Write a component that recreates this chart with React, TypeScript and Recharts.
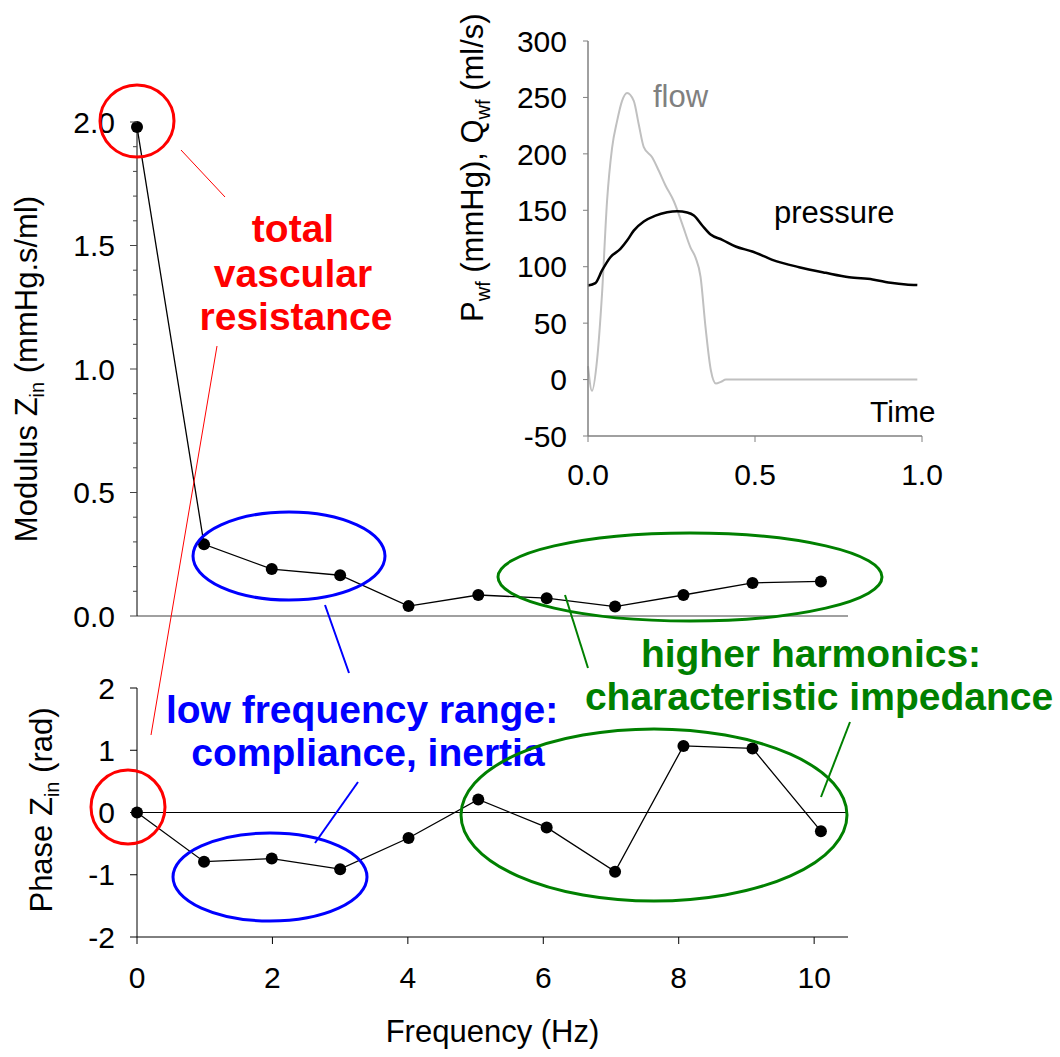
import { LineChart, Line, XAxis, YAxis, ReferenceLine } from "recharts";

const FONT = '"Liberation Sans", Arial, Helvetica, sans-serif';

// input impedance spectrum (harmonics of heart rate)
const harmonicFreq = [0, 0.99, 1.99, 3.0, 4.01, 5.04, 6.05, 7.06, 8.07, 9.09, 10.1];
const modulusZin = [1.98, 0.29, 0.19, 0.165, 0.04, 0.085, 0.072, 0.038, 0.085, 0.134, 0.14];
const phaseZin = [0.0, -0.79, -0.74, -0.91, -0.41, 0.21, -0.24, -0.95, 1.07, 1.03, -0.3];

const freqTicks = [0, 2, 4, 6, 8, 10];
const modulusTicks = [
  0, 0.1, 0.2, 0.3, 0.4, 0.5, 0.6, 0.7, 0.8, 0.9, 1.0, 1.1, 1.2, 1.3, 1.4, 1.5, 1.6, 1.7, 1.8, 1.9, 2.0,
];
const phaseTicks = [-2, -1, 0, 1, 2];

// inset: one beat of flow and pressure
const flowTime = [
  0, 0.012, 0.027, 0.042, 0.057, 0.072, 0.087, 0.102, 0.117, 0.137, 0.152, 0.167, 0.192, 0.212, 0.232,
  0.257, 0.282, 0.307, 0.322, 0.337, 0.352, 0.368, 0.383, 0.398, 0.413, 0.6, 0.8, 0.986,
];
const flowValues = [
  12, -10, 17, 76, 158, 205, 229, 247, 254, 247, 226, 206, 197, 185, 172, 158, 138, 117, 108, 91, 46, 8,
  -3.5, -2, 0, 0, 0, 0,
];
const pressureTime = [
  0, 0.022, 0.042, 0.067, 0.097, 0.117, 0.137, 0.167, 0.202, 0.237, 0.267, 0.297, 0.317, 0.342, 0.367,
  0.402, 0.442, 0.492, 0.552, 0.632, 0.712, 0.782, 0.852, 0.912, 0.952, 0.986,
];
const pressureValues = [
  83.4, 85.5, 96.7, 108.4, 115.8, 123.2, 132, 140, 145.3, 148.2, 149.1, 148, 145.3, 136.5, 128.5, 123.8,
  117.9, 113.5, 106.1, 99.6, 94.6, 90.7, 88.7, 85.5, 84.3, 83.7,
];
const insetYTicks = [-50, 0, 50, 100, 150, 200, 250, 300];
const insetXTicks = [0, 0.5, 1.0];

const spectrum = harmonicFreq.map((f, i) => ({ f, modulus: modulusZin[i], phase: phaseZin[i] }));
const flowData = flowTime.map((t, i) => ({ t, v: flowValues[i] }));
const pressureData = pressureTime.map((t, i) => ({ t, v: pressureValues[i] }));

const tickStyle = { fontSize: 30, fill: "#000", fontFamily: FONT };
const dotStyle = { r: 6, fill: "#000", stroke: "#000", strokeWidth: 0 };

// major ticks every 0.5 with labels, minor ticks every 0.1
function ModulusTick(props: any) {
  const { x, y, payload } = props;
  const v = payload.value as number;
  const major = Math.abs(v * 2 - Math.round(v * 2)) < 1e-6;
  const axisX = x + 7 + 15;
  return (
    <g>
      <line x1={axisX - (major ? 7 : 4)} x2={axisX} y1={y} y2={y} stroke="#444" />
      {major && (
        <text x={x} y={y} dy="0.36em" textAnchor="end" fontSize={30} fill="#000" fontFamily={FONT}>
          {v.toFixed(1)}
        </text>
      )}
    </g>
  );
}

export default function App() {
  const bold = { fontFamily: FONT, fontWeight: 700, fontSize: 39 };
  return (
    <div style={{ position: "relative", width: 1060, height: 1057, background: "#fff", fontFamily: FONT }}>
      <style>{"body{margin:0}"}</style>

      {/* modulus panel */}
      <div style={{ position: "absolute", left: 0, top: 0 }}>
        <LineChart width={1060} height={640} data={spectrum} margin={{ top: 122, right: 212, bottom: 0, left: 0 }}>
          <XAxis
            dataKey="f"
            type="number"
            domain={[0, 10.5]}
            ticks={freqTicks}
            interval={0}
            tick={false}
            tickSize={7}
            height={24}
            axisLine={{ stroke: "#808080", strokeWidth: 1.5 }}
            tickLine={{ stroke: "#808080" }}
          />
          <YAxis
            type="number"
            domain={[0, 2]}
            ticks={modulusTicks}
            interval={0}
            width={137}
            tickLine={false}
            tickSize={7}
            tickMargin={15}
            tick={<ModulusTick />}
            axisLine={{ stroke: "#000" }}
          />
          <Line dataKey="modulus" stroke="#000" strokeWidth={1.3} dot={dotStyle} isAnimationActive={false} />
        </LineChart>
      </div>

      {/* phase panel */}
      <div style={{ position: "absolute", left: 0, top: 640 }}>
        <LineChart width={1060} height={417} data={spectrum} margin={{ top: 48, right: 212, bottom: 0, left: 0 }}>
          <XAxis
            dataKey="f"
            type="number"
            domain={[0, 10.5]}
            ticks={freqTicks}
            interval={0}
            tickSize={7}
            tickMargin={23}
            height={120}
            tick={tickStyle}
            axisLine={{ stroke: "#000" }}
            tickLine={{ stroke: "#000" }}
            label={{
              value: "Frequency (Hz)",
              position: "insideBottom",
              offset: 15,
              fontSize: 31,
              fill: "#000",
              fontFamily: FONT,
            }}
          />
          <YAxis
            type="number"
            domain={[-2, 2]}
            ticks={phaseTicks}
            interval={0}
            width={137}
            tickSize={7}
            tickMargin={15}
            tick={tickStyle}
            axisLine={{ stroke: "#000" }}
            tickLine={{ stroke: "#000" }}
          />
          <ReferenceLine y={0} stroke="#000" strokeWidth={1} />
          <Line dataKey="phase" stroke="#000" strokeWidth={1.3} dot={dotStyle} isAnimationActive={false} />
        </LineChart>
      </div>

      {/* inset: pressure and flow waveforms */}
      <div style={{ position: "absolute", left: 400, top: 0 }}>
        <LineChart width={660} height={520} margin={{ top: 41, right: 138, bottom: 0, left: 0 }}>
          <XAxis
            dataKey="t"
            type="number"
            domain={[0, 1]}
            ticks={insetXTicks}
            interval={0}
            tickFormatter={(v: number) => v.toFixed(1)}
            tickSize={6}
            tickMargin={22}
            height={84}
            tick={tickStyle}
            axisLine={{ stroke: "#808080", strokeWidth: 1.5 }}
            tickLine={{ stroke: "#808080" }}
            allowDuplicatedCategory={false}
          />
          <YAxis
            type="number"
            domain={[-50, 300]}
            ticks={insetYTicks}
            interval={0}
            width={188}
            tickSize={5}
            tickMargin={16}
            tick={tickStyle}
            axisLine={{ stroke: "#808080", strokeWidth: 1.5 }}
            tickLine={{ stroke: "#808080" }}
          />
          <Line
            data={flowData}
            dataKey="v"
            type="monotone"
            stroke="#C0C0C0"
            strokeWidth={2}
            dot={false}
            isAnimationActive={false}
          />
          <Line
            data={pressureData}
            dataKey="v"
            type="monotone"
            stroke="#000"
            strokeWidth={2.5}
            dot={false}
            isAnimationActive={false}
          />
        </LineChart>
      </div>

      {/* titles and annotations */}
      <svg
        width={1060}
        height={1057}
        style={{ position: "absolute", left: 0, top: 0, pointerEvents: "none" }}
        fontFamily={FONT}
      >
        <text transform="translate(37,369) rotate(-90)" textAnchor="middle" fontSize={31} fill="#000">
          Modulus Z
          <tspan fontSize={20} dy={7}>
            in
          </tspan>
          <tspan dy={-7}>{"  (mmHg.s/ml)"}</tspan>
        </text>
        <text transform="translate(52,810) rotate(-90)" textAnchor="middle" fontSize={31} fill="#000">
          Phase Z
          <tspan fontSize={20} dy={7}>
            in
          </tspan>
          <tspan dy={-7}>{"  (rad)"}</tspan>
        </text>
        <text transform="translate(483,322) rotate(-90)" fontSize={31} fill="#000">
          P
          <tspan fontSize={20} dy={7}>
            wf
          </tspan>
          <tspan dy={-7}>{" (mmHg), Q"}</tspan>
          <tspan fontSize={20} dy={7}>
            wf
          </tspan>
          <tspan dy={-7}>{" (ml/s)"}</tspan>
        </text>

        <text x={653} y={107} fontSize={31} fill="#808080">
          flow
        </text>
        <text x={774} y={223} fontSize={31} fill="#000">
          pressure
        </text>
        <text x={870} y={422} fontSize={30} fill="#000">
          Time
        </text>

        {/* red: total vascular resistance */}
        <ellipse cx={137} cy={121} rx={37} ry={36} fill="none" stroke="#FF0000" strokeWidth={3} />
        <line x1={181} y1={150} x2={225} y2={197} stroke="#FF0000" strokeWidth={1} />
        <g fill="#FF0000" textAnchor="middle" {...bold}>
          <text x={293} y={242}>total</text>
          <text x={293} y={287}>vascular</text>
          <text x={296} y={330}>resistance</text>
        </g>
        <line x1={217} y1={346} x2={151} y2={735} stroke="#FF0000" strokeWidth={1} />
        <ellipse cx={128} cy={807} rx={37} ry={37} fill="none" stroke="#FF0000" strokeWidth={3} />

        {/* blue: low frequency range */}
        <ellipse cx={289} cy={556} rx={96} ry={44} fill="none" stroke="#0000FF" strokeWidth={3} />
        <line x1={325} y1={605} x2={349} y2={673} stroke="#0000FF" strokeWidth={2} />
        <g fill="#0000FF" textAnchor="middle" {...bold}>
          <text x={362} y={723}>low frequency range:</text>
          <text x={368} y={766}>compliance, inertia</text>
        </g>
        <line x1={315} y1={843} x2={358} y2={782} stroke="#0000FF" strokeWidth={2} />
        <ellipse cx={270} cy={877} rx={97} ry={44} fill="none" stroke="#0000FF" strokeWidth={3} />

        {/* green: higher harmonics */}
        <ellipse cx={690} cy={577} rx={192} ry={44} fill="none" stroke="#008000" strokeWidth={3} />
        <line x1={565} y1={595} x2={588} y2={668} stroke="#008000" strokeWidth={2} />
        <g fill="#008000" textAnchor="middle" {...bold}>
          <text x={811} y={667}>higher harmonics:</text>
          <text x={819} y={710}>characteristic impedance</text>
        </g>
        <line x1={821} y1={797} x2={850} y2={722} stroke="#008000" strokeWidth={2} />
        <ellipse cx={654} cy={815} rx={193} ry={86} fill="none" stroke="#008000" strokeWidth={3} />
      </svg>
    </div>
  );
}
